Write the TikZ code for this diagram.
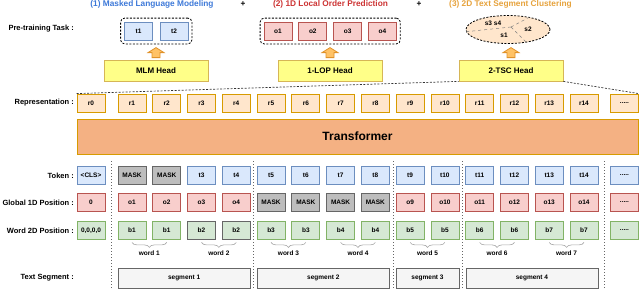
\documentclass[tikz,border=0pt]{standalone}
\usepackage{fontspec}
\setmainfont{Liberation Sans}
\usetikzlibrary{shapes.geometric,decorations.pathreplacing,fit}

\definecolor{repfill}{HTML}{FFE6CC}
\definecolor{repline}{HTML}{D79B00}
\definecolor{tokfill}{HTML}{DAE8FC}
\definecolor{tokline}{HTML}{6C8EBF}
\definecolor{posfill}{HTML}{F8CECC}
\definecolor{posline}{HTML}{B85450}
\definecolor{wdfill}{HTML}{D5E8D4}
\definecolor{wdline}{HTML}{82B366}
\definecolor{maskfill}{HTML}{BDBDBD}
\definecolor{maskline}{HTML}{666666}
\definecolor{segfill}{HTML}{F5F5F5}
\definecolor{headfill}{HTML}{FFFF88}
\definecolor{headline}{HTML}{D6B656}
\definecolor{trfill}{HTML}{F4B183}
\definecolor{arrfill}{HTML}{FFC266}
\definecolor{arrline}{HTML}{E0922A}
\definecolor{tblue}{HTML}{3C78D8}
\definecolor{tred}{HTML}{CC3333}
\definecolor{tgold}{HTML}{E6A23C}

\begin{document}
\begin{tikzpicture}[x=1pt,y=-1pt,
    cell/.style={draw, line width=0.8pt, minimum width=28pt, minimum height=18pt, inner sep=0pt,
      font=\fontsize{6.5}{7}\selectfont\bfseries},
    rep/.style={cell, fill=repfill, draw=repline},
    tok/.style={cell, fill=tokfill, draw=tokline},
    ordbox/.style={cell, fill=posfill, draw=posline},
    wd/.style={cell, fill=wdfill, draw=wdline},
    masked/.style={cell, fill=maskfill, draw=maskline},
    head/.style={draw=headline, fill=headfill, line width=0.8pt, minimum width=104pt, minimum height=21pt,
      font=\fontsize{8}{9}\selectfont\bfseries},
    group/.style={draw, dash pattern=on 2pt off 1.5pt, rounded corners=4pt, inner sep=3.5pt, line width=0.8pt},
    upar/.style={draw=arrline, fill=arrfill, line width=0.8pt, line join=miter},
    rowlabel/.style={anchor=east, inner sep=0pt, font=\fontsize{7.5}{8}\selectfont\bfseries},
    title/.style={font=\fontsize{8.3}{9}\selectfont\bfseries},
    segbox/.style={draw=maskline, fill=segfill, line width=0.8pt, minimum height=20pt, inner sep=0pt,
      font=\fontsize{6.5}{7}\selectfont\bfseries},
    small/.style={inner sep=0pt, font=\fontsize{6.5}{7}\selectfont\bfseries},
    sepline/.style={dotted, line width=1pt, maskline},
    guide/.style={dash pattern=on 2pt off 1.5pt, line width=0.7pt, black!80},
    brace/.style={decorate, decoration={brace, mirror, amplitude=5pt}, gray!70, line width=0.6pt}]
  \useasboundingbox (0,0) rectangle (640,306);

  % task titles
  \node[title, tblue] (ti1) at (152,4.5) {(1) Masked Language Modeling};
  \node[title] (plus1) at (243,4.5) {+};
  \node[title, tred] (ti2) at (330.5,4.5) {(2) 1D Local Order Prediction};
  \node[title] (plus2) at (419,4.5) {+};
  \node[title, tgold] (ti3) at (510.5,4.5) {(3) 2D Text Segment Clustering};

  % pre-training tasks
  \node[rowlabel] (lbtask) at (74,29) {Pre-training Task :};
  \node[tok] (t1) at (138.5,31) {t1};
  \node[tok] (t2) at (174,31) {t2};
  \node[group, fit=(t1)(t2)] (mlmtask) {};
  \foreach \i in {1,...,4}
    \node[ordbox] (o\i) at (278+34.8*\i-34.8,31) {o\i};
  \node[group, fit=(o1)(o4)] (loptask) {};
  \node[ellipse, draw, dash pattern=on 2pt off 1.5pt, line width=0.8pt, fill=repfill,
    minimum width=84pt, minimum height=28pt] (clu) at (508,29.5) {};
  \coordinate (cc) at (511,27);
  \draw[dashed, gray, line width=0.5pt] (cc) -- (clu.183);
  \draw[dashed, gray, line width=0.5pt] (cc) -- (clu.30);
  \draw[dashed, gray, line width=0.5pt] (cc) -- (clu.-35);
  \node[small] (s34) at (493,23) {s3 s4};
  \node[small] (s2) at (528,29) {s2};
  \node[small] (s1) at (504,35.5) {s1};

  % heads
  \node[head] (mlm) at (156,70.5) {MLM Head};
  \node[head] (lop) at (330,70.5) {1-LOP Head};
  \node[head] (tsc) at (511,70.5) {2-TSC Head};
  \foreach \h in {mlm,lop,tsc}
    \draw[upar] ([yshift=2pt]\h.north) ++(-4,0) -- ++(0,-5) -- ++(-4,0) -- ++(8,-5)
      -- ++(8,5) -- ++(-4,0) -- ++(0,5) -- cycle;

  % representation
  \node[rowlabel] (lbrep) at (74,103) {Representation :};
  \node[rep] (r0) at (91,103) {r0};
  \foreach \i in {1,...,14}
    \node[rep] (r\i) at (97.2+34.77*\i,103) {r\i};
  \node[rep] (rd) at (624.5,103) {.....};
  \draw[guide] (r0.north west) -- (tsc.south west);
  \draw[guide] (tsc.south east) -- (rd.north east);

  \node[draw=repline, fill=trfill, line width=0.8pt, minimum width=561pt, minimum height=35pt,
    font=\fontsize{12}{14}\selectfont\bfseries] (tr) at (357.5,136.5) {Transformer};

  % token
  \node[rowlabel] (lbtok) at (74,175.5) {Token :};
  \node[tok] (k0) at (91,175.5) {<CLS>};
  \foreach \i in {1,2}
    \node[masked] (k\i) at (97.2+34.77*\i,175.5) {MASK};
  \foreach \i in {3,...,14}
    \node[tok] (k\i) at (97.2+34.77*\i,175.5) {t\i};
  \node[tok] (kd) at (624.5,175.5) {.....};

  % global 1d position
  \node[rowlabel] (lbpos) at (74,202.5) {Global 1D Position :};
  \node[ordbox] (p0) at (91,202.5) {0};
  \foreach \i in {1,...,4}
    \node[ordbox] (p\i) at (97.2+34.77*\i,202.5) {o\i};
  \foreach \i in {5,...,8}
    \node[masked] (p\i) at (97.2+34.77*\i,202.5) {MASK};
  \foreach \i in {9,...,14}
    \node[ordbox] (p\i) at (97.2+34.77*\i,202.5) {o\i};
  \node[ordbox] (pd) at (624.5,202.5) {.....};

  % word 2d position
  \node[rowlabel] (lbwd) at (74,230.5) {Word 2D Position :};
  \node[wd] (w0) at (91,230.5) {0,0,0,0};
  \foreach \i in {1,...,14}{
    \pgfmathtruncatemacro\n{(\i+1)/2}
    \ifnum\n=2 \def\bc{maskline}\else\def\bc{wdline}\fi
    \node[wd, draw=\bc] (w\i) at (97.2+34.77*\i,230.5) {b\n};
  }
  \node[wd] (wdd) at (624.5,230.5) {.....};
  \foreach \j in {1,...,7}{
    \pgfmathtruncatemacro\a{2*\j-1}
    \pgfmathtruncatemacro\b{2*\j}
    \draw[brace] ([yshift=-2.5pt]w\a.south) -- node[midway, below=8pt, black, small] (word\j) {word \j}
      ([yshift=-2.5pt]w\b.south);
  }

  % text segments
  \node[rowlabel] (lbseg) at (74,278) {Text Segment :};
  \node[segbox, minimum width=132pt] (g1) at (184.1,278) {segment 1};
  \node[segbox, minimum width=132pt] (g2) at (323.3,278) {segment 2};
  \node[segbox, minimum width=63pt] (g3) at (427.5,278) {segment 3};
  \node[segbox, minimum width=132pt] (g4) at (531.9,278) {segment 4};

  \foreach \x in {111.5,253.5,393,462.5,604}
    \draw[sepline] (\x,161) -- (\x,289);
\end{tikzpicture}
\end{document}
